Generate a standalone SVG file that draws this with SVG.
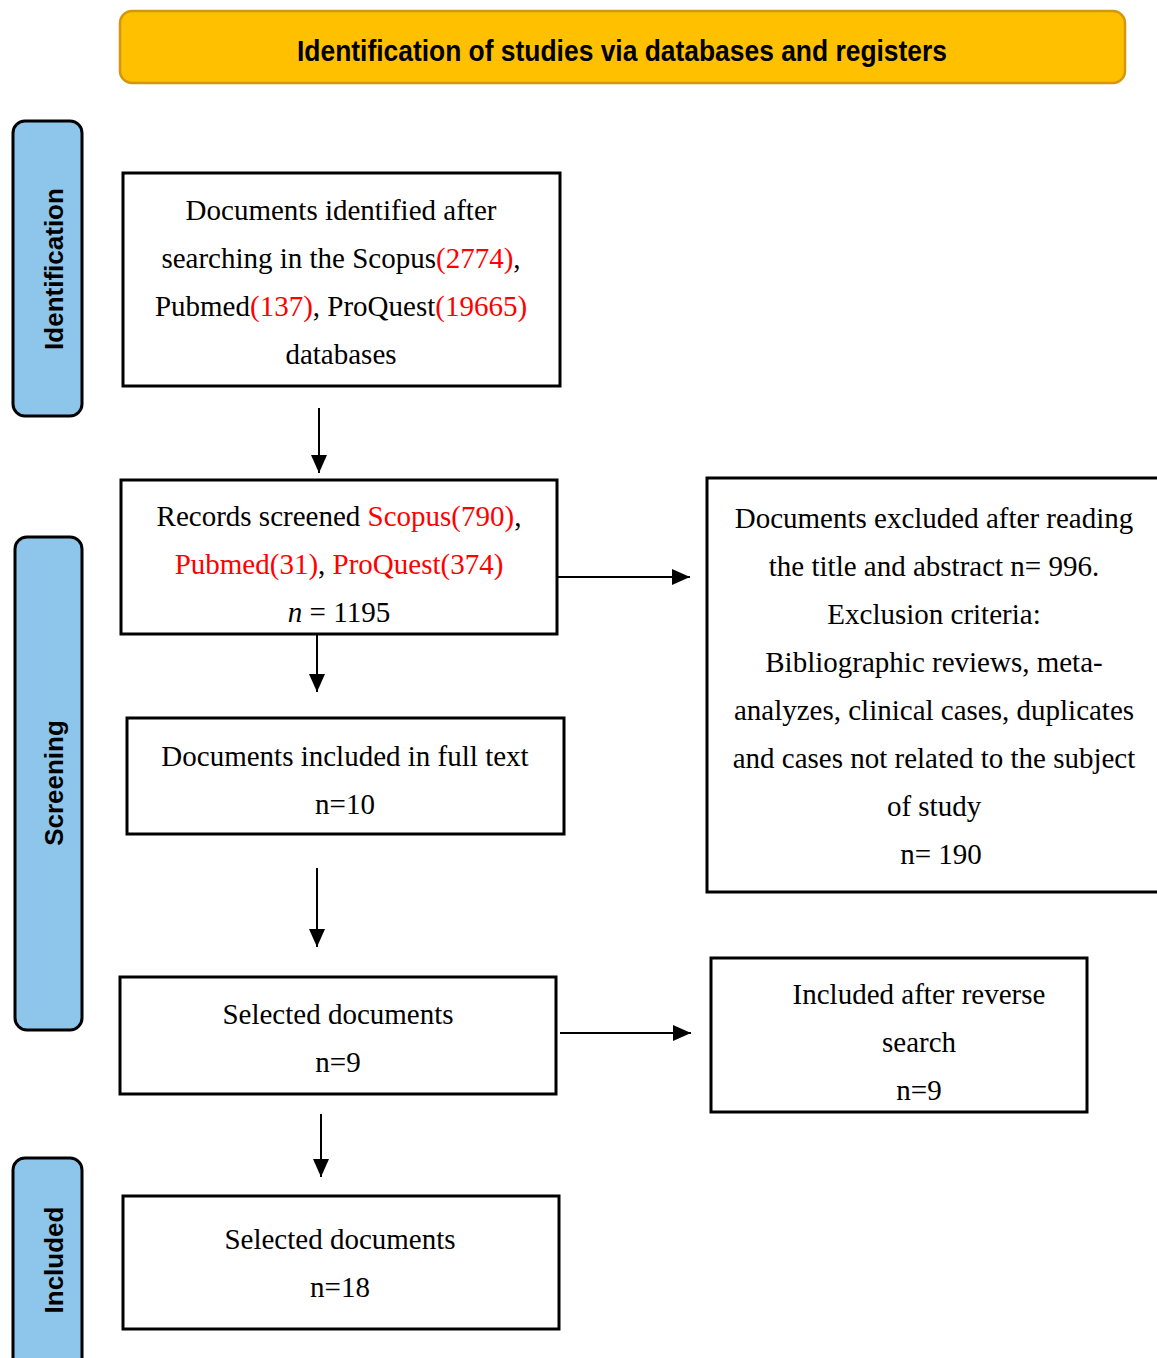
<svg xmlns="http://www.w3.org/2000/svg" width="1157" height="1358" viewBox="0 0 1157 1358">
<style>
.box{fill:#fff;stroke:#000;stroke-width:3}
.side{fill:#8EC5EA;stroke:#000;stroke-width:3}
.t{font-family:"Liberation Serif","Times New Roman",serif;font-size:29px;fill:#000;text-anchor:middle}
.r{fill:#FF0000}
.s{font-family:"Liberation Sans",Arial,sans-serif;font-weight:bold;font-size:26px;fill:#000;text-anchor:middle}
.c{stroke:#000;stroke-width:2;fill:none}
</style>
<defs>
<marker id="ah" markerWidth="18" markerHeight="18" refX="18" refY="9" orient="auto" markerUnits="userSpaceOnUse" viewBox="0 0 18 18">
<path d="M0,1 L18,9 L0,17 Z" fill="#000"/>
</marker>
</defs>
<rect width="1157" height="1358" fill="#fff"/>
<g id="header">
<rect x="120" y="11" width="1005" height="72" rx="12" fill="#FFC000" stroke="#D4960A" stroke-width="2.5"/>
<text x="622" y="61" font-family="'Liberation Sans Narrow','Liberation Sans',Arial,sans-serif" font-weight="bold" font-size="29" text-anchor="middle" textLength="650" lengthAdjust="spacingAndGlyphs">Identification of studies via databases and registers</text>
</g>
<g id="side-identification">
<rect class="side" x="13" y="121" width="69" height="295" rx="12"/>
<text class="s" transform="translate(63,269) rotate(-90)">Identification</text>
</g>
<g id="side-screening">
<rect class="side" x="15" y="537" width="67" height="493" rx="12"/>
<text class="s" transform="translate(63,783) rotate(-90)">Screening</text>
</g>
<g id="side-included">
<rect class="side" x="13" y="1158" width="69" height="220" rx="12"/>
<text class="s" transform="translate(63,1260) rotate(-90)">Included</text>
</g>
<g id="n1">
<rect class="box" x="123" y="173" width="437" height="213"/>
<text class="t" x="341" y="220">Documents identified after</text>
<text class="t" x="341" y="268">searching in the Scopus<tspan class="r">(2774)</tspan>,</text>
<text class="t" x="341" y="316">Pubmed<tspan class="r">(137)</tspan>, ProQuest<tspan class="r">(19665)</tspan></text>
<text class="t" x="341" y="364">databases</text>
</g>
<g id="n2">
<rect class="box" x="121" y="480" width="436" height="154"/>
<text class="t" x="339" y="526">Records screened <tspan class="r">Scopus(790)</tspan>,</text>
<text class="t" x="339" y="574"><tspan class="r">Pubmed(31)</tspan>, <tspan class="r">ProQuest(374)</tspan></text>
<text class="t" x="339" y="622"><tspan font-style="italic">n</tspan> = 1195</text>
</g>
<g id="n3">
<rect class="box" x="127" y="718" width="437" height="116"/>
<text class="t" x="345" y="766">Documents included in full text</text>
<text class="t" x="345" y="814">n=10</text>
</g>
<g id="n4">
<rect class="box" x="120" y="977" width="436" height="117"/>
<text class="t" x="338" y="1024">Selected documents</text>
<text class="t" x="338" y="1072">n=9</text>
</g>
<g id="n5">
<rect class="box" x="123" y="1196" width="436" height="133"/>
<text class="t" x="340" y="1249">Selected documents</text>
<text class="t" x="340" y="1297">n=18</text>
</g>
<g id="n6">
<rect class="box" x="707" y="478" width="470" height="414"/>
<text class="t" x="934" y="528">Documents excluded after reading</text>
<text class="t" x="934" y="576">the title and abstract n= 996.</text>
<text class="t" x="934" y="624">Exclusion criteria:</text>
<text class="t" x="934" y="672">Bibliographic reviews, meta-</text>
<text class="t" x="934" y="720">analyzes, clinical cases, duplicates</text>
<text class="t" x="934" y="768">and cases not related to the subject</text>
<text class="t" x="934" y="816">of study</text>
<text class="t" x="941" y="864">n= 190</text>
</g>
<g id="n7">
<rect class="box" x="711" y="958" width="376" height="154"/>
<text class="t" x="919" y="1004">Included after reverse</text>
<text class="t" x="919" y="1052">search</text>
<text class="t" x="919" y="1100">n=9</text>
</g>
<g id="connectors">
<line class="c" x1="319" y1="408" x2="319" y2="473" marker-end="url(#ah)"/>
<line class="c" x1="317" y1="634" x2="317" y2="692" marker-end="url(#ah)"/>
<line class="c" x1="317" y1="868" x2="317" y2="947" marker-end="url(#ah)"/>
<line class="c" x1="321" y1="1114" x2="321" y2="1177" marker-end="url(#ah)"/>
<line class="c" x1="557" y1="577" x2="690" y2="577" marker-end="url(#ah)"/>
<line class="c" x1="560" y1="1033" x2="691" y2="1033" marker-end="url(#ah)"/>
</g>
</svg>
